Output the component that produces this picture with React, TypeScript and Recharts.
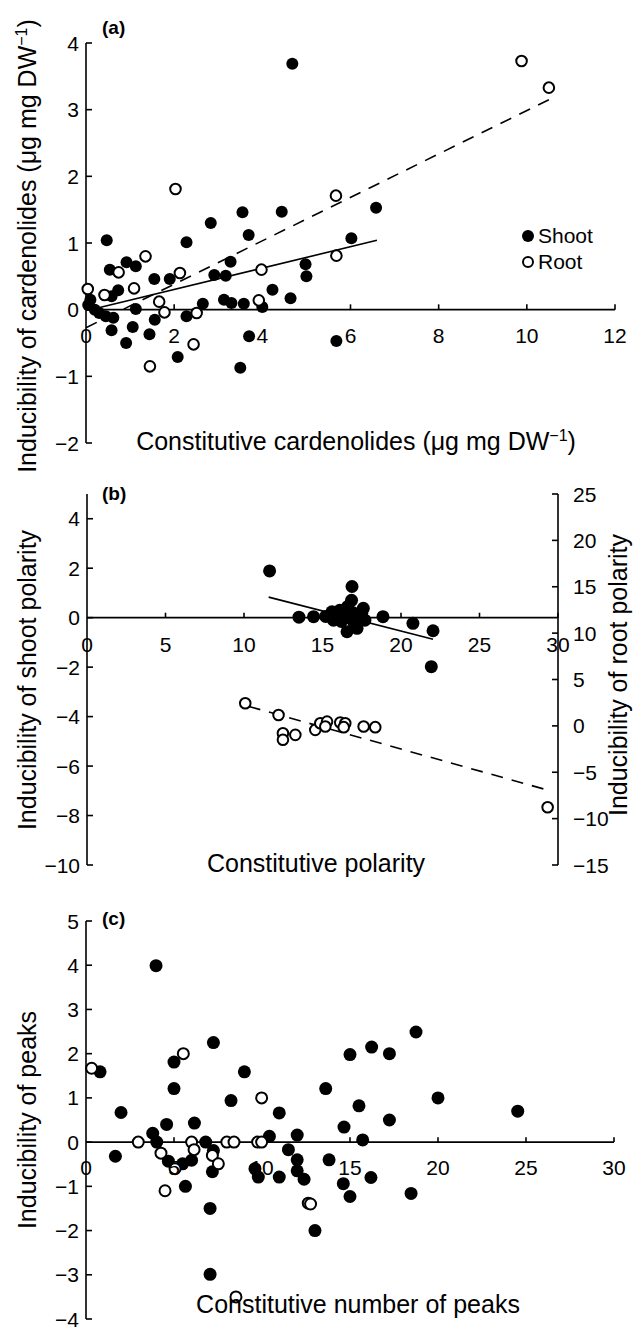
import React from 'react';
import { ScatterChart, Scatter, XAxis, YAxis, ReferenceLine, ReferenceDot, Legend } from 'recharts';

const FONT = '"Liberation Sans", Arial, Helvetica, sans-serif';
const MINUS = '\u2212';

// (a) cardenolides: constitutive (x) vs inducibility (y)
const shootCard = [
  { x: 4.68, y: 3.69 }, { x: 0.47, y: 1.04 }, { x: 0.54, y: 0.6 }, { x: 0.92, y: 0.71 }, { x: 1.13, y: 0.65 },
  { x: 0.73, y: 0.29 }, { x: 0.58, y: 0.2 }, { x: 0.05, y: 0.07 }, { x: 0.1, y: 0.15 }, { x: 0.2, y: 0.0 },
  { x: 0.3, y: -0.05 }, { x: 0.45, y: -0.1 }, { x: 0.62, y: -0.12 }, { x: 0.58, y: -0.31 }, { x: 0.91, y: -0.5 },
  { x: 1.06, y: -0.26 }, { x: 1.13, y: 0.01 }, { x: 1.44, y: -0.37 }, { x: 1.56, y: -0.15 }, { x: 1.55, y: 0.46 },
  { x: 1.9, y: 0.46 }, { x: 2.08, y: -0.71 }, { x: 2.28, y: 1.01 }, { x: 2.28, y: -0.1 }, { x: 2.65, y: 0.09 },
  { x: 2.83, y: 1.3 }, { x: 2.91, y: 0.52 }, { x: 3.17, y: 0.51 }, { x: 3.13, y: 0.15 }, { x: 3.3, y: 0.1 },
  { x: 3.28, y: 0.72 }, { x: 3.55, y: 1.46 }, { x: 3.69, y: 1.12 }, { x: 3.58, y: 0.09 }, { x: 3.5, y: -0.87 },
  { x: 3.7, y: -0.4 }, { x: 4.0, y: 0.04 }, { x: 4.23, y: 0.3 }, { x: 4.44, y: 1.47 }, { x: 4.64, y: 0.17 },
  { x: 4.98, y: 0.68 }, { x: 5.0, y: 0.5 }, { x: 5.68, y: -0.47 }, { x: 6.02, y: 1.07 }, { x: 6.58, y: 1.53 },
];
const rootCard = [
  { x: 0.04, y: 0.31 }, { x: 0.42, y: 0.22 }, { x: 0.74, y: 0.56 }, { x: 1.09, y: 0.32 }, { x: 1.35, y: 0.8 },
  { x: 2.03, y: 1.81 }, { x: 2.13, y: 0.55 }, { x: 1.66, y: 0.12 }, { x: 1.78, y: -0.04 }, { x: 1.45, y: -0.85 },
  { x: 2.44, y: -0.52 }, { x: 2.51, y: -0.05 }, { x: 3.98, y: 0.6 }, { x: 3.92, y: 0.14 }, { x: 5.67, y: 1.71 },
  { x: 5.68, y: 0.81 }, { x: 9.88, y: 3.73 }, { x: 10.5, y: 3.33 },
];
const shootCardFit = [{ x: 0.1, y: 0.0 }, { x: 6.6, y: 1.04 }];
const rootCardFit = [{ x: 0, y: -0.27 }, { x: 10.5, y: 3.15 }];
const cardXTicks = [0, 2, 4, 6, 8, 10, 12];
const cardYTicks = [-2, -1, 0, 1, 2, 3, 4];

// (b) polarity: shoot on left axis, root on right axis
const shootPol = [
  { x: 11.63, y: 1.89 }, { x: 13.5, y: 0.02 }, { x: 14.43, y: 0.04 }, { x: 15.2, y: 0.05 }, { x: 15.6, y: 0.24 },
  { x: 15.7, y: -0.1 }, { x: 15.9, y: 0.1 }, { x: 16.1, y: 0.3 }, { x: 16.2, y: -0.15 }, { x: 16.4, y: 0.15 },
  { x: 16.56, y: -0.57 }, { x: 16.6, y: 0.45 }, { x: 16.7, y: 0.0 }, { x: 16.88, y: 1.26 }, { x: 16.85, y: 0.7 },
  { x: 16.95, y: 0.2 }, { x: 17.0, y: -0.2 }, { x: 17.2, y: -0.43 }, { x: 17.3, y: 0.1 }, { x: 17.5, y: 0.18 },
  { x: 17.6, y: 0.38 }, { x: 17.7, y: -0.1 }, { x: 18.85, y: 0.04 }, { x: 20.76, y: -0.23 }, { x: 22.04, y: -0.53 },
  { x: 21.93, y: -1.98 },
];
const rootPol = [
  { x: 10.08, y: 2.44 }, { x: 12.2, y: 1.18 }, { x: 12.48, y: -0.79 }, { x: 12.48, y: -1.5 }, { x: 13.27, y: -0.97 },
  { x: 14.54, y: -0.43 }, { x: 14.86, y: 0.29 }, { x: 15.29, y: 0.46 }, { x: 15.18, y: -0.07 }, { x: 16.13, y: 0.36 },
  { x: 16.45, y: 0.29 }, { x: 16.35, y: -0.14 }, { x: 17.62, y: -0.07 }, { x: 18.36, y: -0.14 }, { x: 29.34, y: -8.78 },
];
const shootPolFit = [{ x: 11.57, y: 0.83 }, { x: 22.04, y: -0.87 }];
const rootPolFit = [{ x: 10.3, y: 2.1 }, { x: 29.3, y: -6.9 }];
const polXTicks = [0, 5, 10, 15, 20, 25, 30];
const polLeftTicks = [-10, -8, -6, -4, -2, 0, 2, 4];
const polRightTicks = [-15, -10, -5, 0, 5, 10, 15, 20, 25];

// (c) number of peaks
const shootPeaks = [
  { x: 3.98, y: 3.99 }, { x: 0.8, y: 1.59 }, { x: 1.99, y: 0.67 }, { x: 1.67, y: -0.32 }, { x: 3.79, y: 0.2 },
  { x: 4.02, y: 0.0 }, { x: 4.58, y: 0.4 }, { x: 4.68, y: -0.43 }, { x: 5.0, y: 1.81 }, { x: 5.0, y: 1.21 },
  { x: 5.49, y: -0.49 }, { x: 5.65, y: -1.0 }, { x: 6.0, y: -0.41 }, { x: 6.16, y: 0.43 }, { x: 6.8, y: 0.0 },
  { x: 7.24, y: 2.25 }, { x: 7.24, y: -0.19 }, { x: 7.18, y: -0.67 }, { x: 7.05, y: -1.5 }, { x: 7.05, y: -2.99 },
  { x: 8.24, y: 0.94 }, { x: 9.0, y: 1.59 }, { x: 9.6, y: -0.6 }, { x: 9.79, y: -0.79 }, { x: 10.42, y: 0.13 },
  { x: 10.98, y: 0.66 }, { x: 10.98, y: -0.79 }, { x: 11.5, y: -0.17 }, { x: 12.0, y: 0.16 }, { x: 12.0, y: -0.4 },
  { x: 12.0, y: -0.65 }, { x: 12.39, y: -0.84 }, { x: 13.01, y: -2.0 }, { x: 13.62, y: 1.21 }, { x: 13.81, y: -0.4 },
  { x: 14.66, y: 0.34 }, { x: 14.62, y: -0.94 }, { x: 15.0, y: 1.98 }, { x: 15.0, y: -1.23 }, { x: 16.23, y: 2.15 },
  { x: 17.24, y: 2.0 }, { x: 18.75, y: 2.49 }, { x: 15.51, y: 0.82 }, { x: 15.72, y: 0.05 }, { x: 17.24, y: 0.5 },
  { x: 20.0, y: 1.0 }, { x: 24.53, y: 0.7 }, { x: 16.19, y: -0.8 }, { x: 18.47, y: -1.16 },
];
const rootPeaks = [
  { x: 0.32, y: 1.67 }, { x: 2.97, y: 0.0 }, { x: 4.26, y: -0.25 }, { x: 4.49, y: -1.1 }, { x: 5.06, y: -0.6 },
  { x: 5.53, y: 2.0 }, { x: 6.0, y: 0.0 }, { x: 6.14, y: -0.17 }, { x: 7.18, y: -0.3 }, { x: 7.52, y: -0.49 },
  { x: 8.0, y: 0.0 }, { x: 8.41, y: 0.0 }, { x: 9.75, y: 0.0 }, { x: 9.98, y: 0.0 }, { x: 9.98, y: 1.0 },
  { x: 12.63, y: -1.38 }, { x: 12.76, y: -1.4 }, { x: 8.52, y: -3.5 },
];
const peaksXTicks = [0, 5, 10, 15, 20, 25, 30];
const peaksYTicks = [-4, -3, -2, -1, 0, 1, 2, 3, 4, 5];

const legendOrder = ['Shoot', 'Root'];

const fmt = (v: number) => (v < 0 ? MINUS + Math.abs(v) : String(v));

const filled = (r: number) => (p: any) => <circle cx={p.cx} cy={p.cy} r={r} fill="#000" />;
const open = (r: number) => (p: any) => (
  <circle cx={p.cx} cy={p.cy} r={r} fill="#fff" stroke="#000" strokeWidth={2} />
);
const noDot = () => <g />;

// ticks point inward, labels sit outside
const leftTick = (p: any) => (
  <g>
    <line x1={p.x + 7} x2={p.x + 13} y1={p.y} y2={p.y} stroke="#000" strokeWidth={1.6} />
    <text x={p.x} y={p.y} dy="0.36em" textAnchor="end" fontSize={21} fontFamily={FONT} fill="#000">
      {fmt(p.payload.value)}
    </text>
  </g>
);
const rightTick = (p: any) => (
  <g>
    <line x1={p.x - 15} x2={p.x - 21} y1={p.y} y2={p.y} stroke="#000" strokeWidth={1.6} />
    <text x={p.x} y={p.y} dy="0.36em" textAnchor="start" fontSize={21} fontFamily={FONT} fill="#000">
      {fmt(p.payload.value)}
    </text>
  </g>
);

const axisLine = { stroke: '#000', strokeWidth: 1.6 };

// x axis drawn along y = 0
function zeroAxis(ticks: number[], tickLen: number, offset: number, yAxisId?: string) {
  const id = yAxisId ? { yAxisId } : {};
  return [
    <ReferenceLine key="zero" y={0} stroke="#000" strokeWidth={1.6} {...id} />,
    ...ticks.slice(1).map((t) => (
      <ReferenceLine key={'tk' + t} segment={[{ x: t, y: 0 }, { x: t, y: tickLen }]} stroke="#000" strokeWidth={1.6} {...id} />
    )),
    ...ticks.map((t) => (
      <ReferenceDot
        key={'lb' + t}
        x={t}
        y={0}
        r={0}
        fill="none"
        stroke="none"
        {...id}
        label={{ value: fmt(t), position: 'bottom', offset, fontSize: 21, fontFamily: FONT, fill: '#000' }}
      />
    )),
  ];
}

const renderLegend = (props: any) => {
  const items = (props.payload || [])
    .filter((e: any) => legendOrder.includes(e.value))
    .sort((a: any, b: any) => legendOrder.indexOf(a.value) - legendOrder.indexOf(b.value));
  return (
    <div style={{ fontFamily: FONT, fontSize: 21, lineHeight: '26px', color: '#000' }}>
      {items.map((e: any) => (
        <div key={e.value} style={{ display: 'flex', alignItems: 'center', height: 26 }}>
          <svg width={18} height={18}>
            {e.value === 'Shoot' ? (
              <circle cx={9} cy={9} r={6} fill="#000" />
            ) : (
              <circle cx={9} cy={9} r={5} fill="#fff" stroke="#000" strokeWidth={2} />
            )}
          </svg>
          <span style={{ marginLeft: 1 }}>{e.value}</span>
        </div>
      ))}
    </div>
  );
};

const sup = (
  <>
    <tspan dy={-9} fontSize={16}>{MINUS}1</tspan>
    <tspan dy={9}>)</tspan>
  </>
);

const TITLE = 25;

export default function App() {
  return (
    <div style={{ position: 'absolute', left: 0, top: 0, width: 635, height: 1332, background: '#fff' }}>
      {/* (a) */}
      <div style={{ position: 'absolute', left: 0, top: 0 }}>
        <ScatterChart width={635} height={460} margin={{ top: 43, right: 20, bottom: 17, left: 26 }}>
          <XAxis type="number" dataKey="x" domain={[0, 12]} hide />
          <YAxis type="number" dataKey="y" domain={[-2, 4]} ticks={cardYTicks} interval={0} width={60}
            tickSize={0} tickMargin={7} tick={leftTick} tickLine={false} axisLine={axisLine} />
          {zeroAxis(cardXTicks, 0.08, 18)}
          <Scatter data={rootCardFit} line={{ stroke: '#000', strokeWidth: 1.6, strokeDasharray: '12 9' }}
            shape={noDot} legendType="none" isAnimationActive={false} />
          <Scatter data={shootCardFit} line={{ stroke: '#000', strokeWidth: 1.6 }}
            shape={noDot} legendType="none" isAnimationActive={false} />
          <Scatter name="Shoot" data={shootCard} fill="#000" shape={filled(6)} isAnimationActive={false} />
          <Scatter name="Root" data={rootCard} fill="#fff" shape={open(5.3)} isAnimationActive={false} />
          <Legend layout="vertical" align="center" verticalAlign="middle" content={renderLegend}
            wrapperStyle={{ left: 519, top: 223, width: 110 }} />
        </ScatterChart>
      </div>

      {/* (b) */}
      <div style={{ position: 'absolute', left: 0, top: 440 }}>
        <ScatterChart width={635} height={440} margin={{ top: 54, right: 17, bottom: 15, left: 27 }}>
          <XAxis type="number" dataKey="x" domain={[0, 30]} hide />
          <YAxis yAxisId="l" type="number" dataKey="y" domain={[-10, 5]} ticks={polLeftTicks} interval={0} width={60}
            tickSize={0} tickMargin={7} tick={leftTick} tickLine={false} axisLine={axisLine} />
          <YAxis yAxisId="r" orientation="right" type="number" dataKey="y" domain={[-15, 25]} ticks={polRightTicks}
            interval={0} width={60} tickSize={0} tickMargin={15} tick={rightTick} tickLine={false} axisLine={axisLine} />
          {zeroAxis(polXTicks, 0.2, 19, 'l')}
          <Scatter yAxisId="r" data={rootPolFit} line={{ stroke: '#000', strokeWidth: 1.6, strokeDasharray: '12 9' }}
            shape={noDot} legendType="none" isAnimationActive={false} />
          <Scatter yAxisId="l" data={shootPolFit} line={{ stroke: '#000', strokeWidth: 1.6 }}
            shape={noDot} legendType="none" isAnimationActive={false} />
          <Scatter yAxisId="l" name="Shoot" data={shootPol} fill="#000" shape={filled(6.5)} isAnimationActive={false} />
          <Scatter yAxisId="r" name="Root" data={rootPol} fill="#fff" shape={open(5.3)} isAnimationActive={false} />
        </ScatterChart>
      </div>

      {/* (c) */}
      <div style={{ position: 'absolute', left: 0, top: 880 }}>
        <ScatterChart width={635} height={452} margin={{ top: 41, right: 21, bottom: 13, left: 26 }}>
          <XAxis type="number" dataKey="x" domain={[0, 30]} hide />
          <YAxis type="number" dataKey="y" domain={[-4, 5]} ticks={peaksYTicks} interval={0} width={60}
            tickSize={0} tickMargin={7} tick={leftTick} tickLine={false} axisLine={axisLine} />
          {zeroAxis(peaksXTicks, 0.11, 18)}
          <Scatter name="Shoot" data={shootPeaks} fill="#000" shape={filled(6.5)} isAnimationActive={false} />
          <Scatter name="Root" data={rootPeaks} fill="#fff" shape={open(5.5)} isAnimationActive={false} />
        </ScatterChart>
      </div>

      {/* titles and panel letters */}
      <svg width={635} height={1332} style={{ position: 'absolute', left: 0, top: 0, pointerEvents: 'none' }}
        fontFamily={FONT} fill="#000">
        <text x={102} y={34} fontSize={19} fontWeight="bold">(a)</text>
        <text x={102} y={500} fontSize={19} fontWeight="bold">(b)</text>
        <text x={102} y={925} fontSize={19} fontWeight="bold">(c)</text>

        <text transform="translate(36,246) rotate(-90)" textAnchor="middle" fontSize={TITLE}>
          Inducibility of cardenolides (μg mg DW{sup}
        </text>
        <text x={356} y={450} textAnchor="middle" fontSize={TITLE}>
          Constitutive cardenolides (μg mg DW{sup}
        </text>

        <text transform="translate(36,680) rotate(-90)" textAnchor="middle" fontSize={TITLE}>
          Inducibility of shoot polarity
        </text>
        <text transform="translate(627,675) rotate(-90)" textAnchor="middle" fontSize={TITLE}>
          Inducibility of root polarity
        </text>
        <text x={316} y={872} textAnchor="middle" fontSize={TITLE}>Constitutive polarity</text>

        <text transform="translate(36,1120) rotate(-90)" textAnchor="middle" fontSize={TITLE}>
          Inducibility of peaks
        </text>
        <text x={358} y={1313} textAnchor="middle" fontSize={TITLE}>Constitutive number of peaks</text>
      </svg>
    </div>
  );
}
